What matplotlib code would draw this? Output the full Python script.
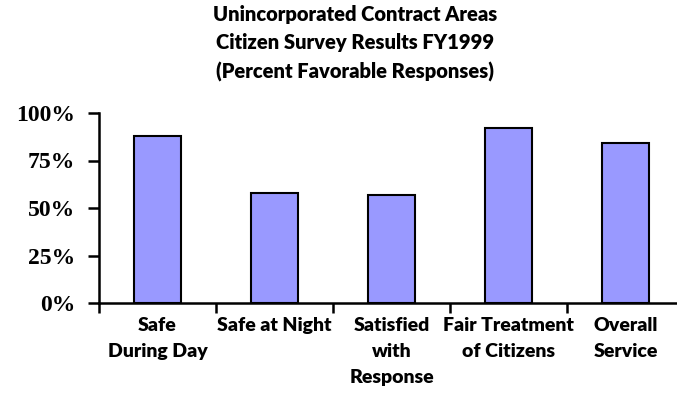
import matplotlib.pyplot as plt
from matplotlib.ticker import FixedLocator, FuncFormatter

# Survey data
categories = ['Safe\nDuring Day', 'Safe at Night', 'Satisfied\nwith\nResponse',
              'Fair Treatment\nof Citizens', 'Overall\nService']
favorable = [88, 58, 57, 92, 84]
y_ticks = [0, 25, 50, 75, 100]

fig = plt.figure(figsize=(6.77, 4.09), dpi=100)
# axis runs off the right side of the picture, like the original
ax = fig.add_axes([99 / 677, 106 / 409, 585 / 677, 190 / 409])

x = list(range(len(categories)))
ax.bar(x, favorable, width=0.4, color='#9999ff', edgecolor='black', linewidth=1.5)

ax.set_xlim(-0.5, len(categories) - 0.5)
ax.set_ylim(0, 100)

for side in ['top', 'right']:
    ax.spines[side].set_visible(False)
ax.spines['left'].set_linewidth(1.8)
ax.spines['bottom'].set_linewidth(1.8)

# y axis
ax.yaxis.set_major_locator(FixedLocator(y_ticks))
ax.yaxis.set_major_formatter(FuncFormatter(lambda v, p: '{:d}%'.format(int(v))))
ax.tick_params(axis='y', direction='out', length=8, width=1.8, pad=9)
for lab in ax.get_yticklabels():
    lab.set_fontfamily('Liberation Serif')
    lab.set_fontweight('bold')
    lab.set_fontsize(17)

# x axis: boundary ticks, labels in the middle
ax.xaxis.set_major_locator(FixedLocator([i - 0.5 for i in range(len(categories) + 1)]))
ax.xaxis.set_major_formatter(FuncFormatter(lambda v, p: ''))
ax.xaxis.set_minor_locator(FixedLocator(x))
ax.set_xticklabels(categories, minor=True)
ax.tick_params(axis='x', which='major', direction='out', length=7, width=1.8)
ax.tick_params(axis='x', which='minor', length=0, pad=10)
for lab in ax.get_xticklabels(minor=True):
    lab.set_fontfamily('Lato')
    lab.set_fontweight('heavy')
    lab.set_fontsize(14)
    lab.set_linespacing(1.65)

fig.text(355 / 677, 1 - 5 / 409,
         'Unincorporated Contract Areas\nCitizen Survey Results FY1999\n(Percent Favorable Responses)',
         ha='center', va='top', fontfamily='Lato', fontweight='heavy', fontsize=14.5,
         linespacing=1.58)

fig.savefig('out.png', dpi=100)
